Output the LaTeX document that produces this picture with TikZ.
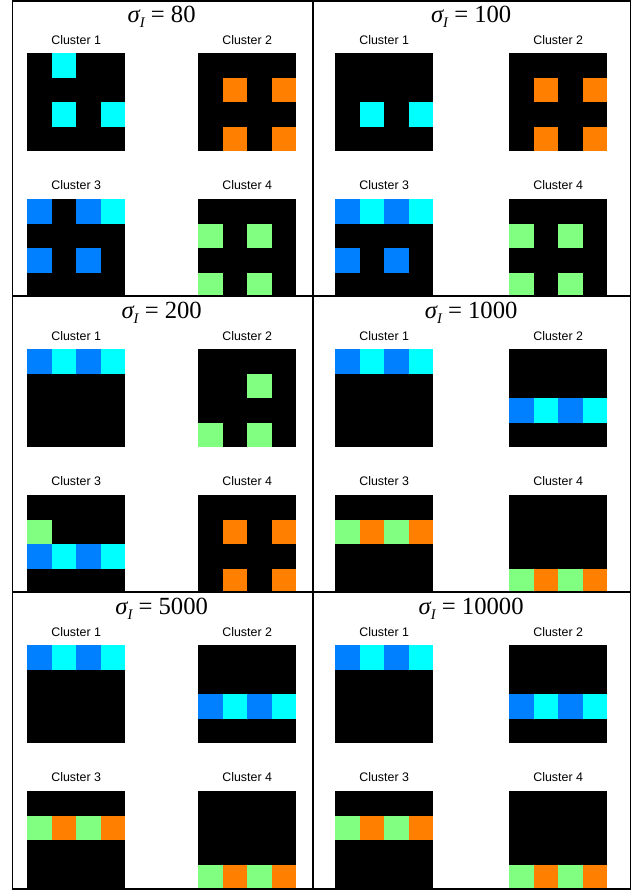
\documentclass[tikz,border=0pt]{standalone}
\usepackage{fontspec}
\setmainfont{Liberation Serif}
\setsansfont{Liberation Sans}
\usepackage{tikz}
\definecolor{cmk}{HTML}{000000}
\definecolor{cmc}{HTML}{00FFFF}
\definecolor{cmb}{HTML}{0080FF}
\definecolor{cmo}{HTML}{FF8000}
\definecolor{cmg}{HTML}{80FF80}
\tikzset{
  sigma title/.style={
    font=\fontsize{18.5}{20}\selectfont,
    inner sep=0pt
  },
  cluster label/.style={
    font=\sffamily\fontsize{9.3}{10}\selectfont,
    inner sep=0pt
  },
  table rule/.style={line width=1.2pt, black}
}
% one 4x4 cluster map: #1 x, #2 y (top left), #3 sixteen cells, row by row
\newcommand{\clustermap}[3]{%
  \foreach \c [count=\i from 0] in {#3} {
    \pgfmathtruncatemacro{\col}{mod(\i,4)}
    \pgfmathtruncatemacro{\row}{int(\i/4)}
    \fill[cm\c] ({#1+\col*24.6},{#2+\row*24.6}) rectangle +(24.6,24.6);
  }}
% one table cell: #1 left map x, #2 right map x, #3 top y, #4 sigma, #5-#8 maps
\newcommand{\sigmapanel}[8]{%
  \node[sigma title] (title-#4) at ({(#1+#2+98.4)/2},{#3+17})
    {{\itshape σ}\raisebox{-0.45ex}{\fontsize{11}{12}\selectfont\itshape I} = #4};
  \node[cluster label] (lab-#4-1) at ({#1+49.2},{#3+40}) {Cluster 1};
  \node[cluster label] (lab-#4-2) at ({#2+49.2},{#3+40}) {Cluster 2};
  \node[cluster label] (lab-#4-3) at ({#1+49.2},{#3+185}) {Cluster 3};
  \node[cluster label] (lab-#4-4) at ({#2+49.2},{#3+185}) {Cluster 4};
  \clustermap{#1}{#3+53}{#5}
  \clustermap{#2}{#3+53}{#6}
  \clustermap{#1}{#3+199}{#7}
  \clustermap{#2}{#3+199}{#8}}

\begin{document}
\begin{tikzpicture}[x=0.75pt, y=-0.75pt]
  \useasboundingbox (0,0) rectangle (634,892);
  \fill[white] (0,0) rectangle (634,892);

  \sigmapanel{27}{198}{0}{80}
    {k,c,k,k, k,k,k,k, k,c,k,c, k,k,k,k}
    {k,k,k,k, k,o,k,o, k,k,k,k, k,o,k,o}
    {b,k,b,c, k,k,k,k, b,k,b,k, k,k,k,k}
    {k,k,k,k, g,k,g,k, k,k,k,k, g,k,g,k}
  \sigmapanel{335}{509}{0}{100}
    {k,k,k,k, k,k,k,k, k,c,k,c, k,k,k,k}
    {k,k,k,k, k,o,k,o, k,k,k,k, k,o,k,o}
    {b,c,b,c, k,k,k,k, b,k,b,k, k,k,k,k}
    {k,k,k,k, g,k,g,k, k,k,k,k, g,k,g,k}
  \sigmapanel{27}{198}{296}{200}
    {b,c,b,c, k,k,k,k, k,k,k,k, k,k,k,k}
    {k,k,k,k, k,k,g,k, k,k,k,k, g,k,g,k}
    {k,k,k,k, g,k,k,k, b,c,b,c, k,k,k,k}
    {k,k,k,k, k,o,k,o, k,k,k,k, k,o,k,o}
  \sigmapanel{335}{509}{296}{1000}
    {b,c,b,c, k,k,k,k, k,k,k,k, k,k,k,k}
    {k,k,k,k, k,k,k,k, b,c,b,c, k,k,k,k}
    {k,k,k,k, g,o,g,o, k,k,k,k, k,k,k,k}
    {k,k,k,k, k,k,k,k, k,k,k,k, g,o,g,o}
  \sigmapanel{27}{198}{592}{5000}
    {b,c,b,c, k,k,k,k, k,k,k,k, k,k,k,k}
    {k,k,k,k, k,k,k,k, b,c,b,c, k,k,k,k}
    {k,k,k,k, g,o,g,o, k,k,k,k, k,k,k,k}
    {k,k,k,k, k,k,k,k, k,k,k,k, g,o,g,o}
  \sigmapanel{335}{509}{592}{10000}
    {b,c,b,c, k,k,k,k, k,k,k,k, k,k,k,k}
    {k,k,k,k, k,k,k,k, b,c,b,c, k,k,k,k}
    {k,k,k,k, g,o,g,o, k,k,k,k, k,k,k,k}
    {k,k,k,k, k,k,k,k, k,k,k,k, g,o,g,o}

  % table rules
  \draw[table rule] (12.5,1) rectangle (630.5,889);
  \draw[table rule] (313,1) -- (313,889);
  \draw[table rule] (12.5,296) -- (630.5,296);
  \draw[table rule] (12.5,592) -- (630.5,592);
\end{tikzpicture}
\end{document}
